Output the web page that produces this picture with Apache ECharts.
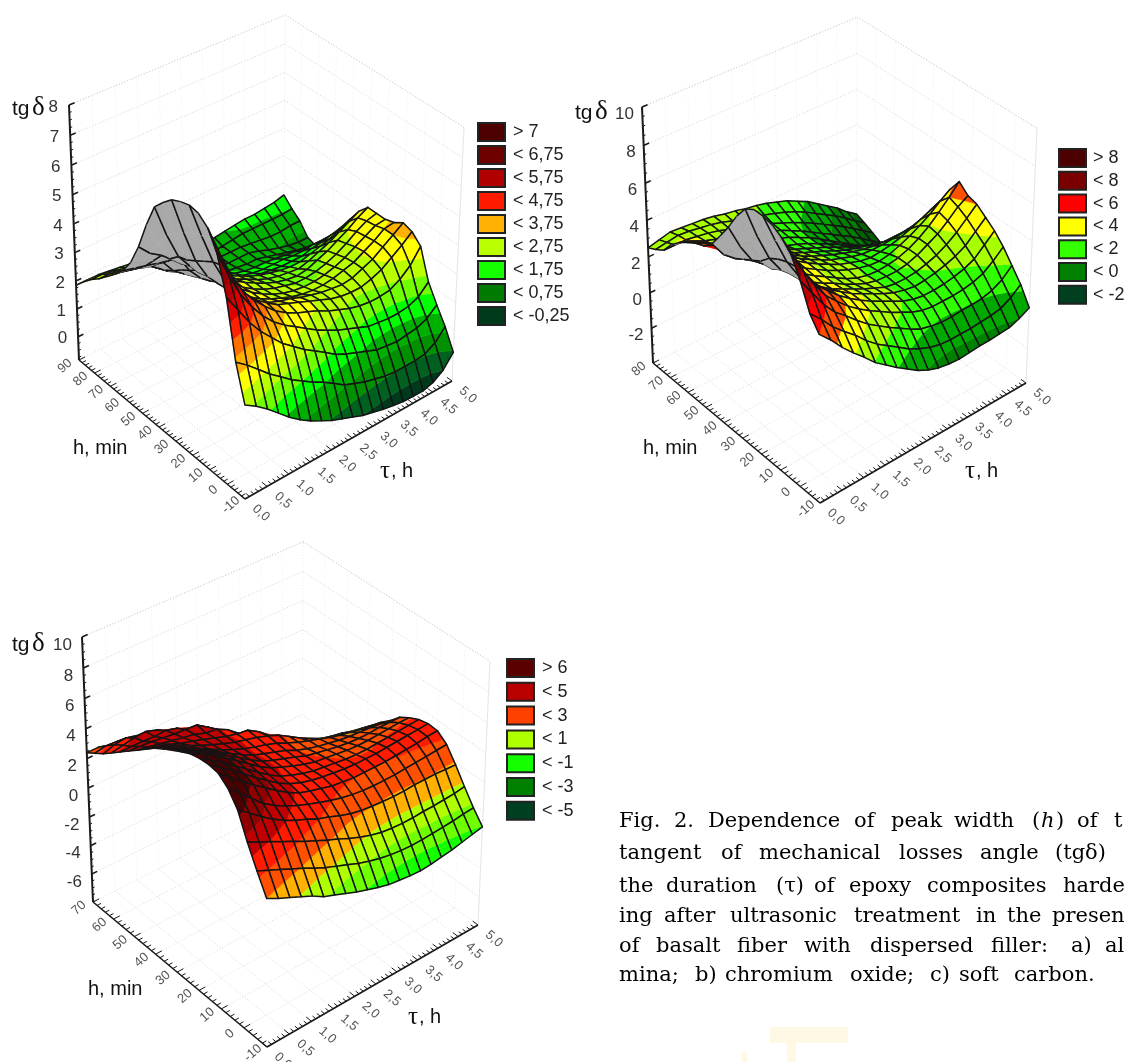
<!DOCTYPE html>
<html><head><meta charset="utf-8">
<style>html,body{margin:0;padding:0;background:#fff}#c{width:1125px;height:1062px}</style>
<script src="https://cdn.jsdelivr.net/npm/echarts@6/dist/echarts.min.js"></script>
</head><body><div id="c"></div>
<script>
const tauNodes=[0,.25,.5,.75,1,1.25,1.5,1.75,2,2.25,2.5,2.75,3,3.25,3.5,3.75,4,4.25,4.5,4.75,5];
const tauTicks=[0,.5,1,1.5,2,2.5,3,3.5,4,4.5,5];
const tauTickLabels=['0,0','0,5','1,0','1,5','2,0','2,5','3,0','3,5','4,0','4,5','5,0'];
const hTicksA=[-10,0,10,20,30,40,50,60,70,80,90];
const hTicksB=[-10,0,10,20,30,40,50,60,70,80];
const hTicksC=[-10,0,10,20,30,40,50,60,70];
const zTicksA=[0,1,2,3,4,5,6,7,8];
const zTicksB=[-2,0,2,4,6,8,10];
const zTicksC=[-6,-4,-2,0,2,4,6,8,10];
const legendLabelsA=['> 7','< 6,75','< 5,75','< 4,75','< 3,75','< 2,75','< 1,75','< 0,75','< -0,25'];
const legendColorsA=['#4d0000','#6e0000','#b00000','#ff1a00','#ffb000','#b9ff00','#14ff00','#007a00','#003a1c'];
const legendLabelsB=['> 8','< 8','< 6','< 4','< 2','< 0','< -2'];
const legendColorsB=['#4d0000','#7a0000','#ff0000','#ffff00','#33ff00','#007f00','#004020'];
const legendLabelsC=['> 6','< 5','< 3','< 1','< -1','< -3','< -5'];
const legendColorsC=['#5a0000','#b80000','#ff4000','#b0ff00','#14ff00','#007f00','#004020'];
const bandLevelsA=[-.25,.25,.75,1.25,1.75,2.25,2.75,3.25,3.75,4.25,4.75,5.25,5.75,6.25,6.75];
const bandColorsA=['#003a1c','#006020','#009000','#00b000','#00ff00','#70ff00','#b9ff00','#ffff00','#ffb000','#ff7000','#ff2000','#e00000','#b80000','#960000','#7a0000','#4d0000'];
const bandLevelsB=[-2,-1,0,1,2,3,4,5,6,7,8];
const bandColorsB=['#004020','#006000','#008000','#00a800','#30ff00','#a8ff00','#ffff00','#ff5000','#ff0000','#c00000','#7a0000','#4d0000'];
const bandLevelsC=[-5,-3,-2,-1,0,1,2,3,4,5,6];
const bandColorsC=['#004020','#007f00','#00c000','#14ff00','#70ff00','#b0ff00','#ffb000','#ff5000','#ff1a00','#c00000','#900000','#4d0000'];
// tg delta at each node: rows = h from minimum to maximum, columns = tau from 0 to 5
const zA=[
[2.4,2.15,1.85,1.5,1.15,.85,.6,.4,.2,.05,-.1,-.25,-.35,-.45,-.52,-.58,-.6,-.6,-.5,-.25,.2],
[3.6,3.3,2.95,2.6,2.3,2,1.75,1.5,1.3,1.05,.8,.65,.5,.4,.3,.25,.25,.25,.3,.5,.9],
[5.5,4.9,4.3,3.8,3.4,3,2.7,2.4,2.15,1.9,1.63,1.45,1.3,1.15,1,.95,.9,.95,1,1.15,1.45],
[6.7,5.8,5,4.4,3.9,3.5,3.2,2.95,2.7,2.45,2.25,2.05,1.9,1.75,1.6,1.55,1.5,1.5,1.55,1.7,2.05],
[7.3,6.3,5.4,4.7,4.2,3.8,3.45,3.2,3,2.85,2.7,2.5,2.35,2.2,2.1,2.05,2.05,2.1,2.3,2.6,3.1],
[7.55,6.45,5.5,4.75,4.2,3.8,3.5,3.25,3.1,2.95,2.8,2.65,2.5,2.4,2.35,2.35,2.45,2.6,2.85,3.1,3.4],
[7.6,6.45,5.4,4.6,4,3.6,3.3,3.1,2.95,2.85,2.7,2.6,2.5,2.45,2.4,2.45,2.6,2.75,3,3.25,3.5],
[7.5,6.35,5.2,4.4,3.9,3.55,3.25,3,2.8,2.65,2.5,2.4,2.35,2.35,2.4,2.5,2.6,2.8,3,3.25,3.3],
[7.35,6.1,5,4.3,3.85,3.6,3.3,3,2.75,2.55,2.4,2.3,2.25,2.25,2.3,2.4,2.55,2.75,2.95,3.15,3.2],
[7.05,5.85,4.8,4.2,3.9,3.8,3.3,2.95,2.7,2.5,2.35,2.25,2.15,2.15,2.2,2.3,2.45,2.65,2.9,3.1,3.2],
[6.7,5.6,4.7,4.2,4.05,4.05,3.3,2.95,2.7,2.5,2.3,2.15,2.05,2,2.05,2.2,2.35,2.55,2.75,3,3.2],
[5.9,5.1,4.4,4.05,3.9,3.9,3.2,2.85,2.6,2.4,2.2,2.05,1.95,1.9,1.85,1.95,2.1,2.25,2.45,2.65,2.85],
[4.95,4.55,4.3,4.05,3.9,3.75,3.05,2.75,2.5,2.3,2.1,1.95,1.85,1.75,1.7,1.7,1.8,1.9,2,2.15,2.35],
[4.2,4,3.9,3.75,3.65,3.6,2.85,2.4,2.05,1.85,1.75,1.65,1.6,1.55,1.5,1.5,1.5,1.6,1.65,1.75,1.85],
[3.7,3.6,3.5,3.4,3.3,3.25,2.6,2.15,1.85,1.7,1.6,1.5,1.4,1.35,1.35,1.35,1.3,1.3,1.35,1.35,1.35],
[3.35,3.3,3.2,3.05,3,2.95,2.4,2,1.75,1.55,1.45,1.35,1.25,1.2,1.2,1.15,1.1,1.05,1,.95,.85],
[3.05,3,2.9,2.8,2.7,2.65,2.15,1.85,1.6,1.4,1.3,1.2,1.15,1.1,1.1,1,.9,.8,.7,.6,.5],
[2.75,2.75,2.65,2.55,2.45,2.35,1.95,1.7,1.45,1.3,1.2,1.15,1.1,1.1,1.1,1,.85,.75,.65,.6,.6],
[2.5,2.5,2.4,2.3,2.2,2.1,1.8,1.5,1.3,1.2,1.1,1.1,1.1,1.1,1.1,1.05,1,.95,.95,1,1],
[2.2,2.15,2.1,2.05,1.95,1.9,1.65,1.45,1.3,1.15,1.1,1.05,1.05,1.1,1.15,1.2,1.2,1.2,1.2,1.2,1.25],
[1.85,1.85,1.85,1.8,1.75,1.7,1.55,1.4,1.25,1.15,1.05,1,1.05,1.2,1.25,1.3,1.35,1.35,1.4,1.45,1.55]];
const zB=[
[5,4.4,3.7,3.1,2.55,1.95,1.5,1.05,.65,.25,-.05,-.25,-.35,-.4,-.35,-.3,-.3,-.25,-.2,0,.3],
[5.7,5.1,4.4,3.85,3.35,2.75,2.25,1.85,1.45,1.05,.75,.5,.35,.3,.3,.3,.35,.4,.5,.8,1.25],
[7,6.1,5.2,4.5,4,3.45,2.95,2.55,2.15,1.8,1.45,1.15,1,.9,.9,.95,.95,1,1.15,1.45,1.95],
[8,6.9,5.85,5,4.4,3.85,3.4,3,2.65,2.3,2,1.7,1.5,1.4,1.4,1.4,1.45,1.55,1.75,2.15,2.65],
[8.5,7.3,6.1,5.2,4.6,4.05,3.6,3.2,2.85,2.55,2.25,1.95,1.75,1.65,1.65,1.7,1.8,1.95,2.2,2.7,3.2],
[8.8,7.4,6.1,5.15,4.5,4,3.6,3.2,2.9,2.6,2.3,2.05,1.9,1.8,1.85,1.95,2.1,2.3,2.6,3.1,3.6],
[8.9,7.4,6,5,4.3,3.8,3.4,3.1,2.8,2.5,2.25,2,1.9,1.9,1.95,2.1,2.3,2.6,3,3.5,4],
[8.9,7.3,5.8,4.75,4.1,3.7,3.35,3.05,2.7,2.4,2.15,2,1.95,1.95,2.05,2.25,2.55,2.85,3.3,3.8,4.15],
[8.6,6.9,5.5,4.6,4.1,3.8,3.4,3.05,2.7,2.35,2.1,1.95,1.9,1.95,2.05,2.25,2.55,2.95,3.45,4,4.6],
[7.9,6.3,5,4.3,4,3.85,3.45,3.1,2.75,2.45,2.2,2,1.85,1.8,1.9,2.1,2.35,2.65,3,3.45,3.85],
[7,5.7,4.7,4.2,4,3.85,3.5,3.1,2.75,2.45,2.15,1.95,1.75,1.65,1.7,1.8,1.95,2.15,2.4,2.65,2.9],
[6.2,5.1,4.4,4,3.85,3.7,3.35,3,2.65,2.35,2.05,1.85,1.65,1.5,1.45,1.45,1.5,1.55,1.65,1.75,1.9],
[5.45,4.6,4.1,3.8,3.65,3.5,3.15,2.85,2.5,2.2,1.95,1.7,1.5,1.3,1.15,1.05,1,1,1,1,1],
[5,4.75,4.3,3.7,3.4,3.2,2.95,2.65,2.35,2.05,1.8,1.55,1.3,1.05,.85,.7,.55,.4,.3,.2,.15],
[4.8,4.5,4.1,3.55,3.1,2.9,2.7,2.4,2.15,1.9,1.65,1.4,1.15,.85,.6,.35,.1,-.1,-.25,-.45,-.6],
[4.5,4.25,3.9,3.35,2.85,2.6,2.4,2.15,1.95,1.75,1.55,1.3,1,.7,.4,.05,-.25,-.55,-.8,-1.05,-1.3],
[4.15,3.95,3.65,3.2,2.8,2.6,2.4,2.2,2,1.8,1.6,1.3,1,.65,.25,-.1,-.5,-.85,-1.25,-1.75,-2.2],
[3.7,3.55,3.3,3.05,2.85,2.65,2.45,2.25,2.05,1.85,1.65,1.35,1.05,.7,.35,0,-.35,-.7,-1.1,-1.5,-1.9],
[3.05,3.05,3.05,2.95,2.85,2.7,2.5,2.3,2.15,1.9,1.7,1.45,1.2,.9,.6,.25,-.1,-.45,-.85,-1.25,-1.65],
[2.75,2.85,2.95,2.9,2.8,2.7,2.55,2.35,2.2,2,1.85,1.65,1.45,1.2,.9,.55,.2,-.15,-.55,-1,-1.4],
[2.5,2.65,2.8,2.75,2.7,2.65,2.55,2.4,2.3,2.15,2.05,1.9,1.7,1.5,1.2,.9,.5,.1,-.3,-.8,-1.2]];
const zC=[
[2,1.6,1.25,.9,.55,.1,-.2,-.5,-.8,-1.05,-1.3,-1.5,-1.6,-1.7,-1.75,-1.7,-1.6,-1.5,-1.35,-1.2,-1.05],
[3.3,2.95,2.6,2.25,1.9,1.5,1.15,.85,.55,.25,0,-.2,-.35,-.45,-.5,-.5,-.45,-.4,-.35,-.25,-.2],
[4.7,4.3,3.95,3.55,3.2,2.8,2.45,2.1,1.8,1.45,1.15,.9,.7,.6,.55,.55,.6,.6,.65,.7,.8],
[6.3,5.7,5.1,4.55,4.1,3.7,3.4,3.05,2.8,2.5,2.25,2.1,2,1.95,1.9,1.9,1.95,1.95,1.95,1.9,1.85],
[7.2,6.5,5.8,5.1,4.6,4.2,3.85,3.55,3.3,3.05,2.85,2.7,2.6,2.55,2.55,2.55,2.6,2.65,2.7,2.75,2.8],
[7.7,7.05,6.45,5.85,5.3,4.75,4.25,3.85,3.6,3.4,3.2,3.1,3,3,3,3,3.05,3.1,3.15,3.25,3.3],
[7.8,7.25,6.7,6.1,5.5,4.95,4.4,4,3.7,3.5,3.35,3.25,3.15,3.1,3.1,3.1,3.15,3.2,3.25,3.3,3.35],
[7.75,7.25,6.75,6.2,5.6,5.05,4.5,4.05,3.75,3.5,3.3,3.2,3.1,3,2.95,2.95,3,3.05,3.1,3.15,3.2],
[7.6,7.2,6.75,6.25,5.7,5.15,4.6,4.15,3.85,3.55,3.3,3.1,3,2.9,2.8,2.75,2.75,2.8,2.85,2.9,2.9],
[7.3,6.95,6.55,6.1,5.6,5.1,4.6,4.15,3.85,3.6,3.35,3.05,2.9,2.75,2.6,2.5,2.45,2.45,2.5,2.5,2.5],
[6.95,6.6,6.25,5.85,5.4,4.95,4.5,4.1,3.85,3.6,3.35,3,2.75,2.55,2.4,2.25,2.15,2.1,2.05,1.95,1.85],
[6.6,6.3,5.95,5.55,5.15,4.75,4.4,4.1,3.85,3.65,3.4,3.05,2.75,2.5,2.25,2,1.8,1.65,1.5,1.4,1.3],
[6.2,5.95,5.65,5.3,4.95,4.65,4.35,4.1,3.9,3.7,3.45,3.15,2.7,2.25,1.85,1.5,1.3,1.15,.95,.8,.65],
[5.7,5.5,5.3,5,4.8,4.55,4.3,4.05,3.85,3.75,3.3,2.7,2.1,1.6,1.2,.9,.6,.3,.1,-.1,-.3],
[5.2,5.05,4.9,4.75,4.6,4.45,4.2,4.1,3.7,3.1,2.5,1.9,1.35,.9,.5,.15,-.2,-.5,-.8,-1.1,-1.4],
[4.7,4.65,4.6,4.5,4.4,4.35,4.3,3.8,3.1,2.3,1.65,1.05,.55,.1,-.3,-.7,-1.05,-1.4,-1.75,-2.1,-2.5],
[4.2,4.2,4.2,4.15,4.2,4,3.4,2.95,2.4,1.8,1.1,.3,-.6,-1.6,-2.6,-3.3,-3.8,-4.2,-4.5,-4.8,-5],
[3.7,3.85,4,4.05,3.8,3.35,2.95,2.5,1.95,1.35,.65,-.1,-1,-2,-3,-3.8,-4.3,-4.7,-5,-5.3,-5.5],
[3.2,3.45,3.55,3.35,3.05,2.7,2.3,1.9,1.5,1,.35,-.35,-1.25,-2.3,-3.3,-4.2,-4.6,-5,-5.3,-5.6,-5.9],
[2.8,2.95,2.9,2.65,2.4,2.1,1.75,1.4,1,.6,.05,-.55,-1.2,-2.1,-3,-4,-4.6,-5.1,-5.5,-5.9,-6.3],
[2.4,2.4,2.2,2,1.8,1.5,1.2,.9,.55,.15,-.25,-.75,-1.3,-2.5,-3.5,-4.5,-5,-5.5,-6,-6.4,-6.8]];

const captionWords=[
[['Fig.',619],['2.',674],['Dependence',708],['of',854],['peak',891],['width',954],['(',1032],['h',1041,'i'],[')',1056],['of',1077],['t',1114]],
[['tangent',619],['of',721],['mechanical',759],['losses',899],['angle',980],['(tgδ)',1055]],
[['the',619],['duration',666],['(τ)',776],['of',814],['epoxy',849],['composites',927],['harde',1063]],
[['ing',619],['after',664],['ultrasonic',730],['treatment',854],['in',976],['the',1007],['presen',1052]],
[['of',619],['basalt',656],['fiber',737],['with',804],['dispersed',870],['filler:',991],['a)',1071],['al',1105]],
[['mina;',619],['b)',695],['chromium',725],['oxide;',850],['c)',930],['soft',959],['carbon.',1014]]];
const captionCentres=[821.5,853.5,886.5,916.5,946.5,975.5];

const panels=[
{z:zA,underside:true,O:[245,499],Pa:[452,381],Pb:[79,360],TL:[69,105],TR:[464,127],w:.0733,zr:[-.85,8],hr:[-10,90],zt:zTicksA,ht:hTicksA,zMinor:.25,lev:bandLevelsA,col:bandColorsA,zlx:-11,zly:2,
 tg:[12,109],hl:[73,448],tl:[380,471],lg:{x:478,y:123,step:23,tx:513,labels:legendLabelsA,colors:legendColorsA}},
{z:zB,underside:true,O:[820,503],Pa:[1026,383],Pb:[653,363],TL:[642,107],TR:[1037,130],w:.078,zr:[-4,10],hr:[-10,80],zt:zTicksB,ht:hTicksB,zMinor:.5,lev:bandLevelsB,col:bandColorsB,zlx:-8,zly:7,
 tg:[575,113],hl:[643,448],tl:[965,471],lg:{x:1059,y:149,step:22.8,tx:1093,labels:legendLabelsB,colors:legendColorsB}},
{z:zC,underside:false,O:[267,1047],Pa:[478,925],Pb:[93,902],TL:[82,637],TR:[490,659],w:.068,zr:[-8,10],hr:[-10,70],zt:zTicksC,ht:hTicksC,zMinor:.5,lev:bandLevelsC,col:bandColorsC,zlx:-10,zly:8,
 tg:[12,645],hl:[88,989],tl:[408,1017],lg:{x:507,y:659,step:23.8,tx:542,labels:legendLabelsC,colors:legendColorsC}}];

panels.forEach(p=>{
  const w=p.w,k=(p.Pa[0]-p.Pb[0])/(p.TR[0]-p.TL[0]);
  p.A=[p.Pa[0]*(1+w)-p.O[0],p.Pa[1]*(1+w)-p.O[1]];
  p.B=[p.Pb[0]*(1+w)-p.O[0],p.Pb[1]*(1+w)-p.O[1]];
  p.C=[(p.TL[0]*k-p.Pb[0])*(1+w),(p.TL[1]*k-p.Pb[1])*(1+w)];
  p.wc=(k-1)*(1+w);
});
function proj(p,tau,h,z){
  const a=tau/5,b=(h-p.hr[0])/(p.hr[1]-p.hr[0]),c=(z-p.zr[0])/(p.zr[1]-p.zr[0]);
  const D=1+p.w*(a+b)+p.wc*c;
  return [(p.O[0]+a*p.A[0]+b*p.B[0]+c*p.C[0])/D,(p.O[1]+a*p.A[1]+b*p.B[1]+c*p.C[1])/D];
}
function clipBand(poly,lo,hi){
  function cut(pts,keep,val){
    const out=[];
    for(let n=0;n<pts.length;n++){
      const s=pts[n],e=pts[(n+1)%pts.length];
      const si=keep(s[2]),ei=keep(e[2]);
      if(si)out.push(s);
      if(si!==ei){const t=(val-s[2])/(e[2]-s[2]);out.push([s[0]+t*(e[0]-s[0]),s[1]+t*(e[1]-s[1]),val]);}
    }
    return out;
  }
  let r=poly;
  if(lo>-1e8)r=cut(r,v=>v>=lo,lo);
  if(r.length&&hi<1e8)r=cut(r,v=>v<=hi,hi);
  return r;
}
function surfaceSeries(p){
  const data=[];
  for(let j=19;j>=0;j--)for(let i=19;i>=0;i--)data.push([i,j]);
  const dh=(p.hr[1]-p.hr[0])/20;
  return {type:'custom',coordinateSystem:'cartesian2d',silent:true,animation:false,clip:false,z:3,data,
    renderItem(params,api){
      const i=api.value(0),j=api.value(1);
      const nd=(ii,jj)=>{const q=api.coord(proj(p,tauNodes[ii],p.hr[0]+jj*dh,p.z[jj][ii]));return [q[0],q[1],p.z[jj][ii]];};
      const q=[nd(i,j),nd(i+1,j),nd(i+1,j+1),nd(i,j+1)];
      let area=0;
      for(let n=0;n<4;n++){const s=q[n],e=q[(n+1)%4];area+=s[0]*e[1]-e[0]*s[1];}
      const ch=[];
      const pts=q.map(v=>[v[0],v[1]]);
      if(area>0&&p.underside){
        ch.push({type:'polygon',shape:{points:pts},style:{fill:'#a9a9a9',stroke:'#a9a9a9',lineWidth:.5}});
        const edge=(u,v)=>ch.push({type:'line',shape:{x1:pts[u][0],y1:pts[u][1],x2:pts[v][0],y2:pts[v][1]},style:{stroke:'#141414',lineWidth:1.5}});
        if(j%2===0)edge(0,1);else edge(3,2);
        if(i%2===0)edge(0,3);else edge(1,2);
      }else{
        for(let b=0;b<p.col.length;b++){
          const lo=b===0?-1e9:p.lev[b-1],hi=b===p.col.length-1?1e9:p.lev[b];
          const r=clipBand(q,lo,hi);
          if(r.length>2)ch.push({type:'polygon',shape:{points:r.map(v=>[v[0],v[1]])},style:{fill:p.col[b],stroke:p.col[b],lineWidth:.5}});
        }
        ch.push({type:'polygon',shape:{points:pts},style:{fill:'none',stroke:'#141414',lineWidth:1.5,lineJoin:'round'}});
      }
      return {type:'group',children:ch};
    }};
}
function frameSeries(p){
  return {type:'custom',coordinateSystem:'cartesian2d',silent:true,animation:false,clip:false,z:1,data:[[0,0]],
    renderItem(params,api){
      const ch=[];
      const P=(t,h,z)=>api.coord(proj(p,t,h,z));
      const [h0,h1]=p.hr,[z0,z1]=p.zr;
      const ln=(a,b,color,dash)=>ch.push({type:'line',shape:{x1:a[0],y1:a[1],x2:b[0],y2:b[1]},style:{stroke:color,lineWidth:1,lineDash:dash||[1,2]}});
      const soft='#d4d4d4',faint='#f3f3f3';
      p.zt.concat([z1]).forEach(z=>{ln(P(0,h1,z),P(5,h1,z),soft);ln(P(5,h1,z),P(5,h0,z),soft);});
      tauTicks.forEach(t=>{ln(P(t,h0,z0),P(t,h1,z0),'#dcdcdc');if(t>0)ln(P(t,h1,z0),P(t,h1,z1),faint);});
      p.ht.forEach(h=>{ln(P(0,h,z0),P(5,h,z0),'#dcdcdc');ln(P(5,h,z0),P(5,h,z1),faint);});
      ln(P(5,h0,z0),P(5,h0,z1),'#e6e6e6',[0]);
      return {type:'group',children:ch};
    }};
}
function axesSeries(p){
  return {type:'custom',coordinateSystem:'cartesian2d',silent:true,animation:false,clip:false,z:2,data:[[0,0]],
    renderItem(params,api){
      const ch=[];
      const P=(t,h,z)=>api.coord(proj(p,t,h,z));
      const [h0,h1]=p.hr,[z0,z1]=p.zr;
      const seg=(a,b,lw)=>ch.push({type:'line',shape:{x1:a[0],y1:a[1],x2:b[0],y2:b[1]},style:{stroke:'#1a1a1a',lineWidth:lw}});
      seg(P(0,h1,z0),P(0,h1,z1),2);
      seg(P(0,h0,z0),P(5,h0,z0),1.6);
      seg(P(0,h0,z0),P(0,h1,z0),1.6);
      const hSpan=h1-h0;
      for(let t=0;t<=50;t++){const v=t/10,major=t%5===0;seg(P(v,h0,z0),P(v,h0+hSpan*(major?.028:.018),z0),1);}
      for(let n=0;n<=hSpan/2;n++){const v=h0+n*2,major=n%5===0;seg(P(0,v,z0),P(major?.14:.09,v,z0),1);}
      for(let z=Math.ceil(z0/p.zMinor)*p.zMinor;z<=z1+1e-6;z+=p.zMinor){const major=p.zt.some(m=>Math.abs(m-z)<1e-6);seg(P(0,h1,z),P(major?.12:.05,h1,z),major?1.6:1);}
      const txt=(s,x,y,font,fill,rot,align)=>ch.push({type:'text',x,y,rotation:rot||0,style:{text:s,x:0,y:0,font,fill,align:align||'center',verticalAlign:'middle'}});
      const tickFont='13px "Liberation Sans"';
      tauTicks.forEach((t,n)=>{const q=P(t,h0,z0);txt(tauTickLabels[n],q[0]+16,q[1]+14,tickFont,'#555',-.72);});
      p.ht.forEach(h=>{const q=P(0,h,z0);txt(String(h),q[0]-14,q[1]+6,tickFont,'#555',.72);});
      p.zt.forEach(z=>{const q=P(0,h1,z);txt(String(z),q[0]+p.zlx,q[1]+p.zly,'17px "Liberation Sans"','#333',0,'right');});
      const f='21px "Liberation Sans"',sf='27px "Liberation Serif"';
      txt('tg',p.tg[0],p.tg[1],f,'#111',0,'left');
      txt('δ',p.tg[0]+20,p.tg[1]-1,sf,'#111',0,'left');
      txt('h, min',p.hl[0],p.hl[1],'20px "Liberation Sans"','#111',0,'left');
      txt('τ',p.tl[0],p.tl[1],'25px "Liberation Serif"','#111',0,'left');
      txt(', h',p.tl[0]+11,p.tl[1],'20px "Liberation Sans"','#111',0,'left');
      const g=p.lg;
      g.labels.forEach((s,n)=>{
        const y=g.y+n*g.step;
        ch.push({type:'rect',shape:{x:g.x,y,width:27,height:18},style:{fill:g.colors[n],stroke:'#222',lineWidth:2}});
        txt(s,g.tx,y+9,'18px "Liberation Sans"','#222',0,'left');
      });
      return {type:'group',children:ch};
    }};
}
const graphics=[
 {type:'rect',shape:{x:770,y:1027,width:78,height:16},style:{fill:'#fff8e4'},silent:true},
 {type:'rect',shape:{x:787,y:1043,width:9,height:19},style:{fill:'#fff8e4'},silent:true},
 {type:'rect',shape:{x:742,y:1052,width:5,height:10},style:{fill:'#fff8e4'},silent:true}];
captionWords.forEach((line,n)=>line.forEach(w=>graphics.push({type:'text',x:w[1],y:captionCentres[n],silent:true,
  style:{text:w[0],fill:'#000',font:(w[2]?'italic ':'')+'21px "DejaVu Serif"',align:'left',verticalAlign:'middle'}})));

const chart=echarts.init(document.getElementById('c'),null,{renderer:'canvas',width:1125,height:1062});
const series=[];
panels.forEach(p=>{series.push(frameSeries(p),axesSeries(p),surfaceSeries(p));});
chart.setOption({
  animation:false,backgroundColor:'#fff',
  grid:{left:0,top:0,width:1125,height:1062},
  xAxis:{type:'value',min:0,max:1125,show:false},
  yAxis:{type:'value',min:0,max:1062,inverse:true,show:false},
  graphic:graphics,
  series
});
</script></body></html>
